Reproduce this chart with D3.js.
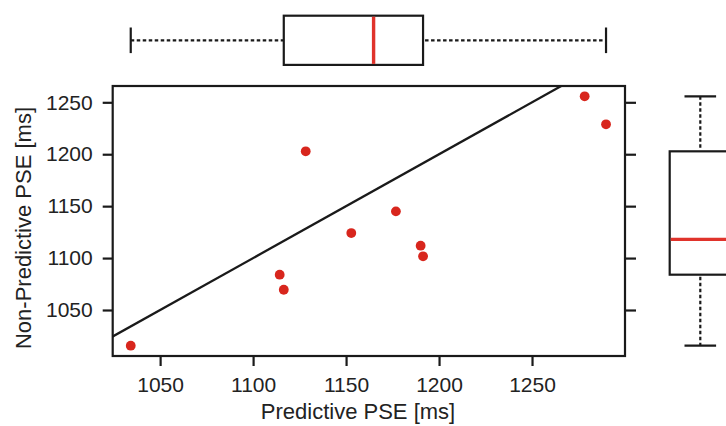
<!DOCTYPE html>
<html><head><meta charset="utf-8">
<script src="https://cdn.jsdelivr.net/npm/d3@7"></script>
<style>
html,body{margin:0;padding:0;background:#fff;}
svg{display:block;font-family:"Liberation Sans",Arial,Helvetica,sans-serif;}
</style></head>
<body><svg id="c" width="726" height="426"></svg>
<script>
// Data (ms)
const predictivePSE    = [1034.2, 1128.3, 1114.3, 1116.5, 1152.8, 1176.8, 1190.1, 1191.4, 1278.3, 1289.8];
const nonPredictivePSE = [1015.6, 1202.8, 1084.0, 1069.5, 1124.1, 1145.0, 1111.9, 1101.7, 1255.8, 1228.8];
const xTicks = [1050, 1100, 1150, 1200, 1250];
const yTicks = [1050, 1100, 1150, 1200, 1250];
const xDomain = [1024.5, 1300];
const yDomain = [1005.7, 1265.7];
const xLabel = "Predictive PSE [ms]";
const yLabel = "Non-Predictive PSE [ms]";

const svg = d3.select("#c");
const L = 112.7, R = 625, T = 86, B = 356;
const x = d3.scaleLinear().domain(xDomain).range([L, R]);
const y = d3.scaleLinear().domain(yDomain).range([B, T]);

const RED = "#d8261d", MED = "#e0332b", INK = "#1a1a1a";
const SW = 2.2;

// MATLAB-style percentile
function prctile(arr, p){
  const s = arr.slice().sort((a,b)=>a-b), n = s.length;
  let h = n*p + 0.5;
  if (h <= 1) return s[0];
  if (h >= n) return s[n-1];
  const lo = Math.floor(h), f = h - lo;
  return s[lo-1] + f*(s[lo]-s[lo-1]);
}
function stats(arr){
  const q1 = prctile(arr,0.25), med = prctile(arr,0.5), q3 = prctile(arr,0.75);
  const iqr = q3-q1;
  const inr = arr.filter(v => v >= q1-1.5*iqr && v <= q3+1.5*iqr);
  return {q1, med, q3, lo: d3.min(inr), hi: d3.max(inr)};
}

// clip
svg.append("defs").append("clipPath").attr("id","clip")
  .append("rect").attr("x",L).attr("y",T).attr("width",R-L).attr("height",B-T);

// identity line
const dmin = Math.min(xDomain[0], yDomain[0]), dmax = Math.max(xDomain[1], yDomain[1]);
svg.append("line").attr("clip-path","url(#clip)")
  .attr("x1", x(dmin)).attr("y1", y(dmin)).attr("x2", x(dmax)).attr("y2", y(dmax))
  .attr("stroke", INK).attr("stroke-width", 2.3);

// points
svg.append("g").selectAll("circle").data(predictivePSE.map((v,i)=>[v, nonPredictivePSE[i]]))
  .join("circle").attr("cx", d=>x(d[0])).attr("cy", d=>y(d[1])).attr("r", 4.9).attr("fill", RED);

// frame
svg.append("rect").attr("x",L).attr("y",T).attr("width",R-L).attr("height",B-T)
  .attr("fill","none").attr("stroke",INK).attr("stroke-width",SW);

// axes
const fs = "21px";
const xAxis = svg.append("g").attr("transform",`translate(0,${B})`)
  .call(d3.axisBottom(x).tickValues(xTicks).tickSize(10).tickPadding(11).tickFormat(d3.format("d")));
const yAxisL = svg.append("g").attr("transform",`translate(${L},0)`)
  .call(d3.axisLeft(y).tickValues(yTicks).tickSize(10).tickPadding(10).tickFormat(d3.format("d")));
const yAxisR = svg.append("g").attr("transform",`translate(${R},0)`)
  .call(d3.axisRight(y).tickValues(yTicks).tickSize(11).tickFormat(""));
[xAxis, yAxisL, yAxisR].forEach(g=>{
  g.select(".domain").remove();
  g.selectAll(".tick line").attr("stroke",INK).attr("stroke-width",SW);
  g.selectAll(".tick text").attr("fill","#222").style("font-size",fs).style("font-family","Liberation Sans, Arial, sans-serif");
});

// axis titles
svg.append("text").attr("x",358).attr("y",419).attr("text-anchor","middle")
  .attr("fill","#222").style("font-size","22px").text(xLabel);
svg.append("text").attr("transform","translate(31,228) rotate(-90)").attr("text-anchor","middle")
  .attr("fill","#222").style("font-size","22px").text(yLabel);

// top boxplot (predictive)
const sx = stats(predictivePSE);
const tb = svg.append("g");
const cy = 40.3, hh = 24.6, cap = 12.8;
tb.append("line").attr("x1",x(sx.lo)).attr("x2",x(sx.q1)).attr("y1",cy).attr("y2",cy)
  .attr("stroke",INK).attr("stroke-width",SW).attr("stroke-dasharray","3.5,2.5");
tb.append("line").attr("x1",x(sx.q3)+2).attr("x2",x(sx.hi)).attr("y1",cy).attr("y2",cy)
  .attr("stroke",INK).attr("stroke-width",SW).attr("stroke-dasharray","3.5,2.5");
[sx.lo, sx.hi].forEach(v=> tb.append("line").attr("x1",x(v)).attr("x2",x(v)).attr("y1",cy-cap).attr("y2",cy+cap)
  .attr("stroke",INK).attr("stroke-width",SW));
tb.append("rect").attr("x",x(sx.q1)).attr("y",cy-hh).attr("width",x(sx.q3)-x(sx.q1)).attr("height",2*hh)
  .attr("fill","none").attr("stroke",INK).attr("stroke-width",SW);
tb.append("line").attr("x1",x(sx.med)).attr("x2",x(sx.med)).attr("y1",cy-hh+1).attr("y2",cy+hh-1)
  .attr("stroke",MED).attr("stroke-width",3.4);

// right boxplot (non-predictive)
const sy = stats(nonPredictivePSE);
const rb = svg.append("g");
const cx = 700.3, hw = 30.6, capw = 15.8;
rb.append("line").attr("x1",cx).attr("x2",cx).attr("y1",y(sy.hi)).attr("y2",y(sy.q3)-2)
  .attr("stroke",INK).attr("stroke-width",SW).attr("stroke-dasharray","3.5,2.5");
rb.append("line").attr("x1",cx).attr("x2",cx).attr("y1",y(sy.q1)+2).attr("y2",y(sy.lo))
  .attr("stroke",INK).attr("stroke-width",SW).attr("stroke-dasharray","3.5,2.5");
[sy.lo, sy.hi].forEach(v=> rb.append("line").attr("x1",cx-capw).attr("x2",cx+capw).attr("y1",y(v)).attr("y2",y(v))
  .attr("stroke",INK).attr("stroke-width",SW));
rb.append("rect").attr("x",cx-hw).attr("y",y(sy.q3)).attr("width",2*hw).attr("height",y(sy.q1)-y(sy.q3))
  .attr("fill","none").attr("stroke",INK).attr("stroke-width",SW);
rb.append("line").attr("x1",cx-hw+1).attr("x2",cx+hw-1).attr("y1",y(sy.med)).attr("y2",y(sy.med))
  .attr("stroke",MED).attr("stroke-width",3.4);
</script></body></html>
